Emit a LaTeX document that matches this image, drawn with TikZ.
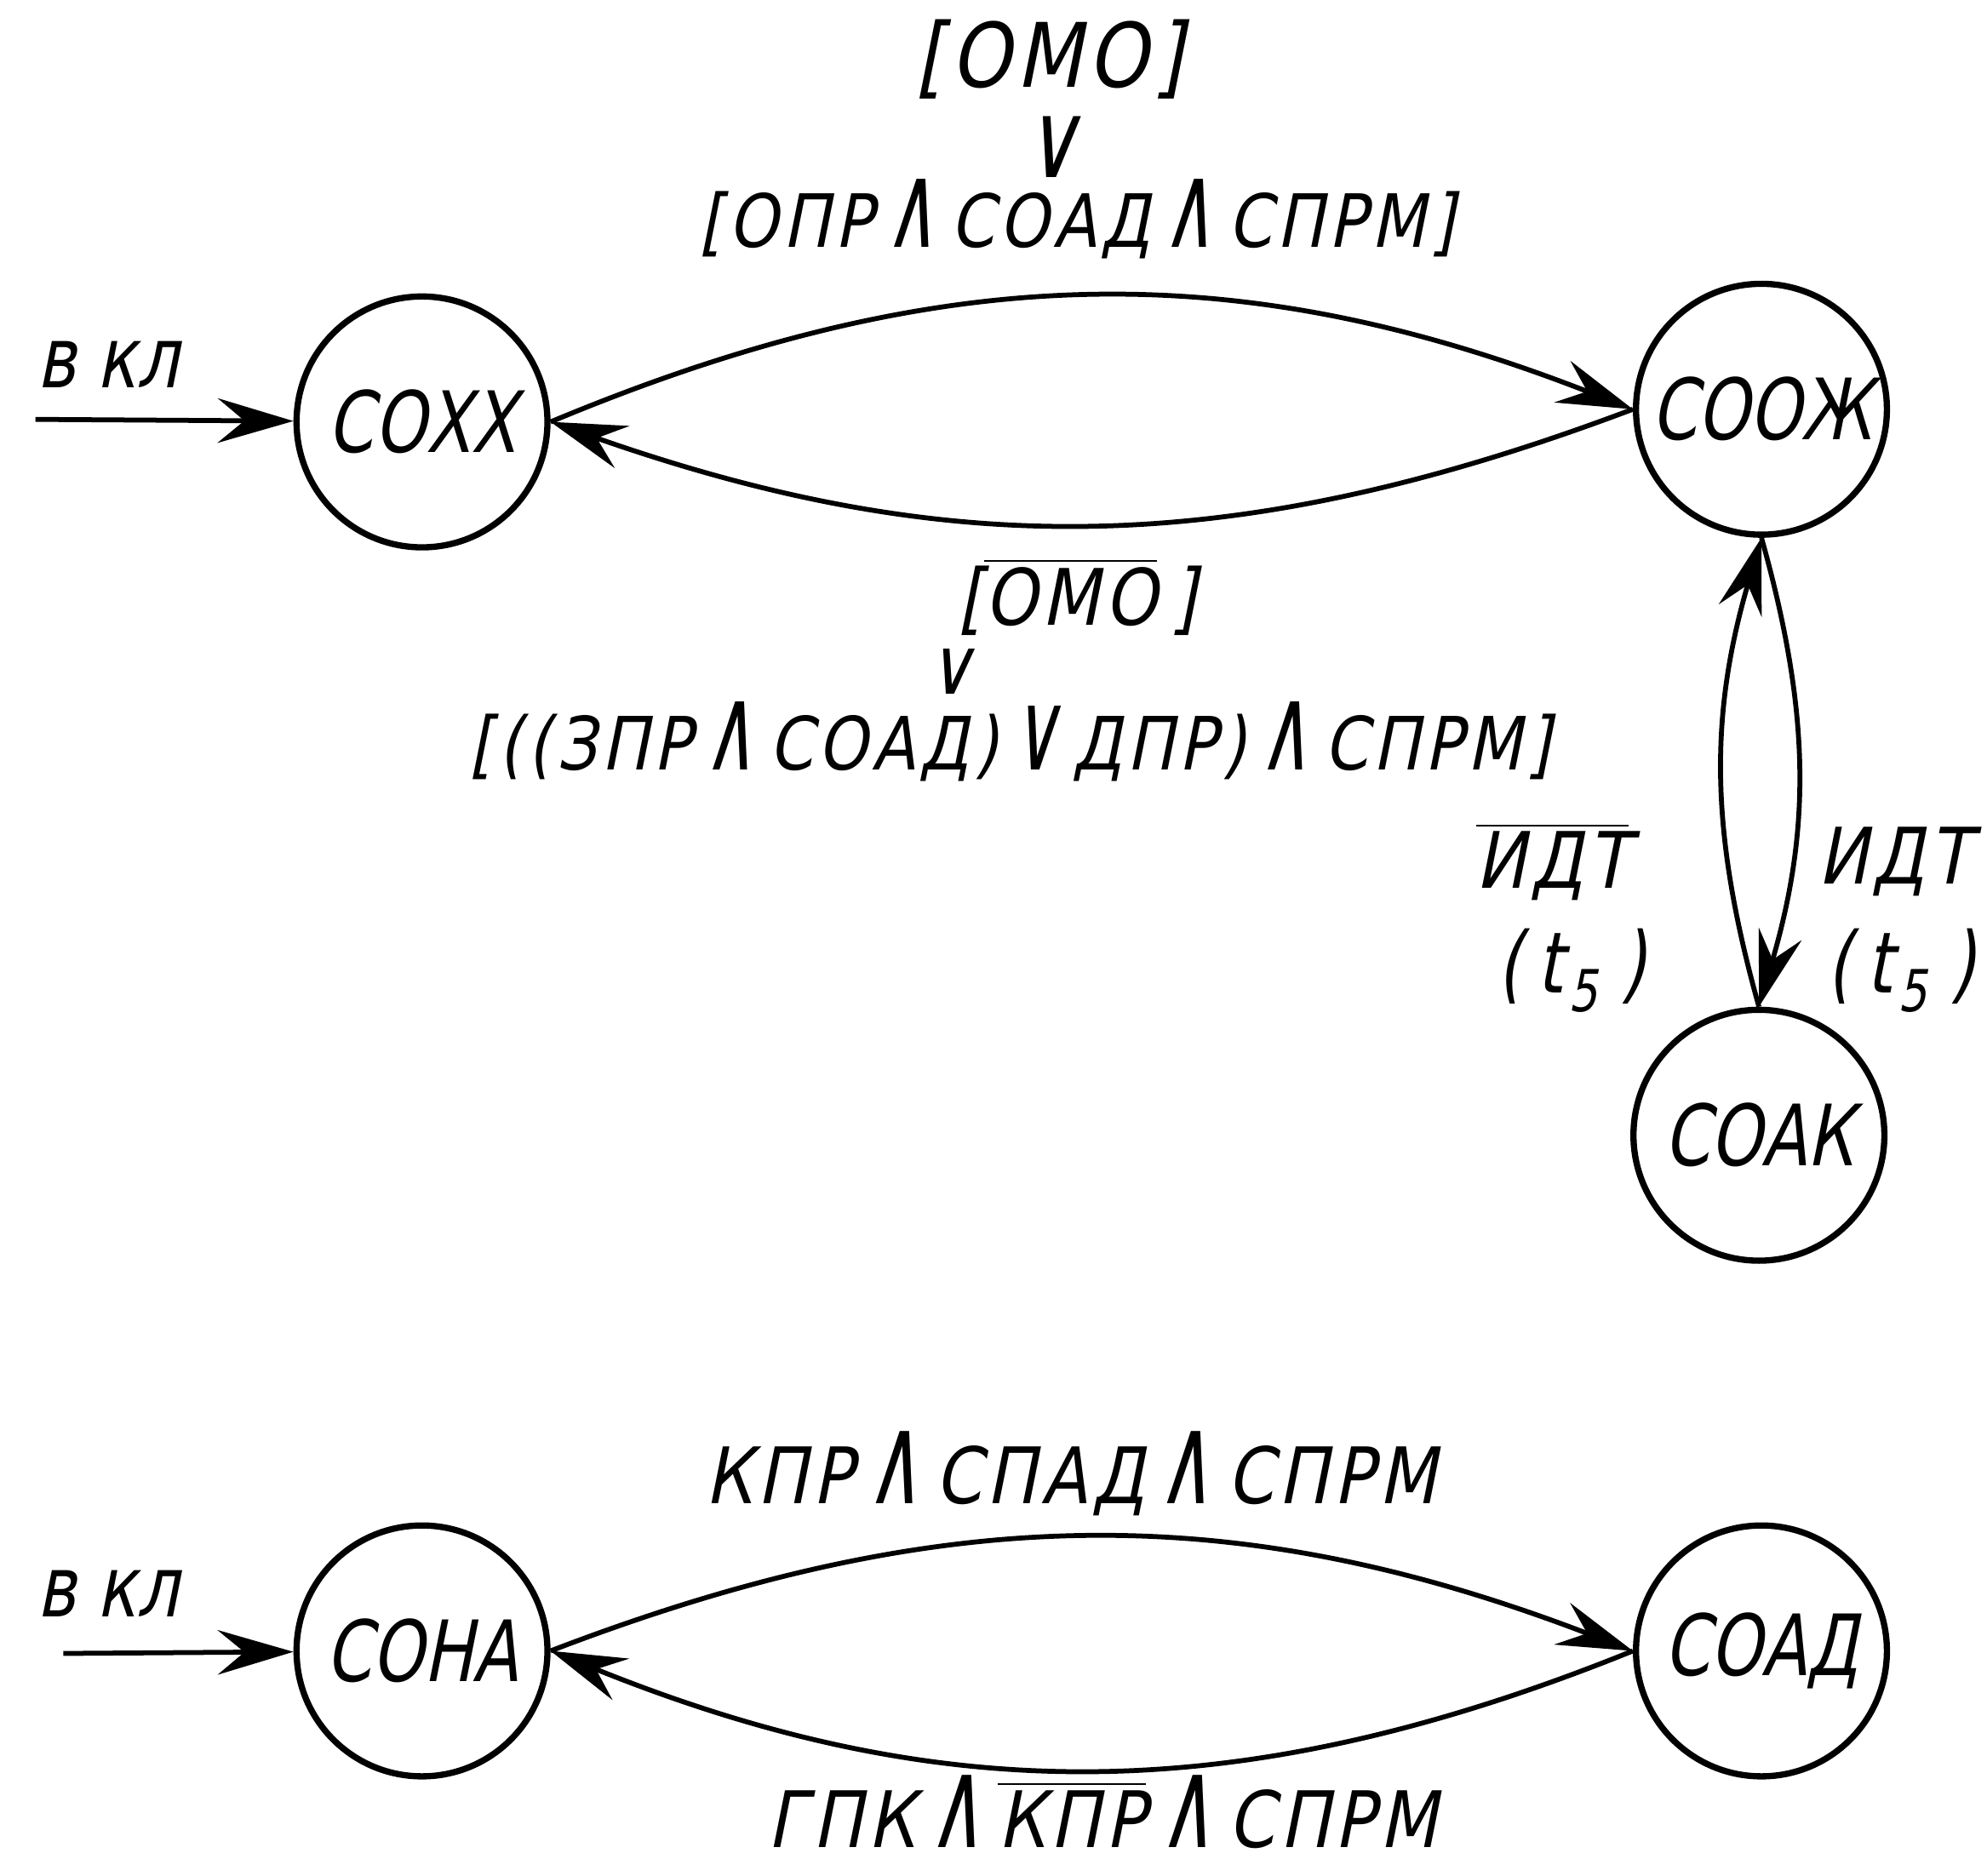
\documentclass[tikz,border=0pt]{standalone}
\usepackage{fontspec}
\newfontfamily\gf{DejaVu Sans}[FakeStretch=0.78,FakeSlant=0.2]
\newfontfamily\lf{DejaVu Sans}[FakeStretch=0.86,FakeSlant=0.2,LetterSpace=6]
\usetikzlibrary{arrows.meta}
\newcommand\ovl[1]{\ensuremath{\overline{\mbox{#1}}}}
\newcommand\AND{\,\scalebox{1.15}[1.6]{∧}\,}
\newcommand\OR{\,\scalebox{1.1}[1.5]{∨}\,}
\newcommand\tfive{(\,t\kern0.06em\raisebox{-0.4ex}{\fontsize{13}{13}\selectfont 5}\kern0.1em\,)}
\newcommand\labfont{\lf\fontsize{17.5}{20}\selectfont}
\newcommand\bigfont{\gf\fontsize{19}{21}\selectfont}
\tikzset{
  state/.style={circle, draw, line width=1.4pt, minimum size=1.98cm, inner sep=0pt, font=\bigfont},
  trans/.style={line width=1.1pt, -{Stealth[length=17pt, width=10pt, inset=6pt]}},
  lab/.style={inner sep=0pt, font=\labfont},
  tlab/.style={inner sep=0pt, font=\bigfont},
}
\begin{document}
\begin{tikzpicture}
\useasboundingbox (0,0) rectangle (15.68,14.80);
% states
\node[state] (coxx) at (3.33,11.47) {СОХХ};
\node[state] (cooz) at (13.90,11.57) {СООЖ};
\node[state] (coak) at (13.88,5.84) {СОАК};
\node[state] (cona) at (3.33,1.77) {СОНА};
\node[state] (coad) at (13.90,1.77) {СОАД};
% inputs
\coordinate (in1) at (0.28,11.49);
\coordinate (in2) at (0.50,1.75);
\node[tlab] (vkl1) at (0.85,11.92) {в кл};
\node[tlab] (vkl2) at (0.85,2.22) {в кл};
\draw[trans] (in1) -- (coxx);
\draw[trans] (in2) -- (cona);
% top pair
\draw[trans] (coxx.east) to[bend left=22] (cooz.west);
\draw[trans] (cooz.west) to[bend left=20] (coxx.east);
\node[lab] (omo1) at (8.28,14.33) {\fontsize{20}{22}\selectfont[ОМО]};
\node[lab] (or1) at (8.30,13.64) {\scalebox{1.2}[1.35]{∨}};
\node[lab] (c1) at (8.50,13.07) {\fontsize{16.5}{19}\selectfont[ОПР\AND СОАД\AND СПРМ]};
\node[lab] (omo2) at (8.50,10.09) {[\ovl{ОМО}\,]};
\node[lab] (or2) at (7.50,9.50) {∨};
\node[lab] (c2) at (7.97,8.95) {\fontsize{16.5}{19}\selectfont[((ЗПР\AND СОАД)\OR ДПР)\AND СПРМ]};
% vertical pair
\draw[trans] (coak.north) to[bend left=16] (cooz.south);
\draw[trans] (cooz.south) to[bend left=16] (coak.north);
\node[lab] (idt1) at (12.25,8.00) {\ovl{ИДТ}};
\node[tlab] (t1) at (12.40,7.14) {\tfive};
\node[lab] (idt2) at (14.95,8.00) {ИДТ};
\node[tlab] (t2) at (15.00,7.14) {\tfive};
% bottom pair
\draw[trans] (cona.east) to[bend left=21] (coad.west);
\draw[trans] (coad.west) to[bend left=22] (cona.east);
\node[lab] (c3) at (8.45,3.17) {КПР\AND СПАД\AND СПРМ};
\node[lab] (c4) at (8.70,0.50) {ГПК\AND\ovl{КПР}\AND СПРМ};
\end{tikzpicture}
\end{document}
